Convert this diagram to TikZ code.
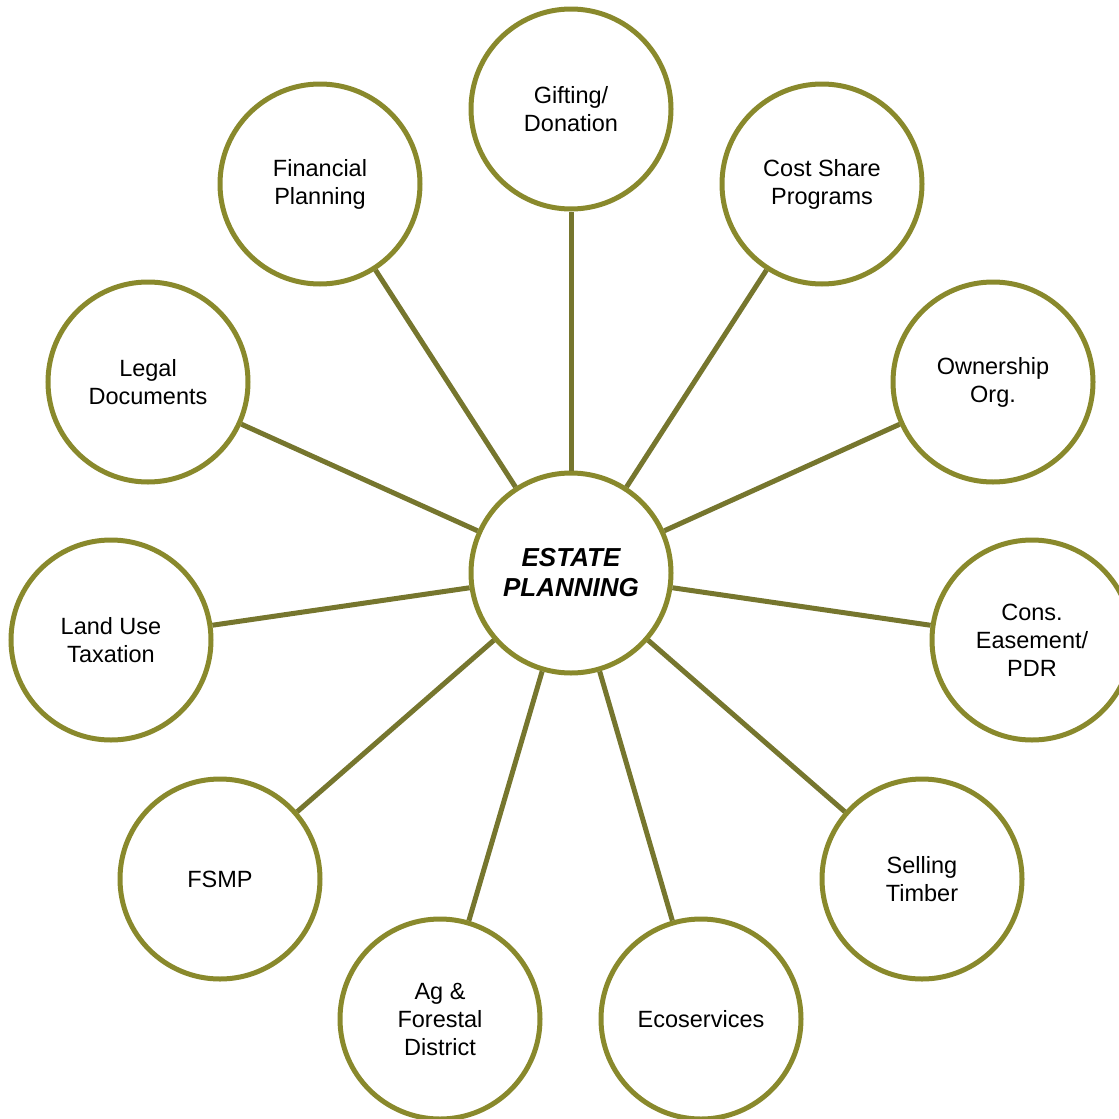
\documentclass[tikz,border=0pt]{standalone}
\usepackage{fontspec}
\setmainfont{Liberation Sans}
\definecolor{ringolive}{RGB}{137,137,44}
\definecolor{spokeolive}{RGB}{118,118,46}
\begin{document}
\begin{tikzpicture}[x=1pt,y=-1pt,
  topic/.style={circle,draw=ringolive,line width=5pt,fill=white,minimum size=200pt,
    inner sep=0pt,align=center,font=\fontsize{23.5}{28}\selectfont},
  hub/.style={topic,font=\fontsize{26}{30}\selectfont\bfseries\itshape},
  spoke/.style={draw=spokeolive,line width=5pt}]
\clip (0,0) rectangle (1119,1119);
\useasboundingbox (0,0) rectangle (1119,1119);
\node[hub]   (hub)   at (571,573)  {ESTATE\\PLANNING};
\node[topic] (gift)  at (571,109)  {Gifting/\\Donation};
\node[topic] (cost)  at (822,184)  {Cost Share\\Programs};
\node[topic] (fin)   at (320,184)  {Financial\\Planning};
\node[topic] (own)   at (993,382)  {Ownership\\Org.};
\node[topic] (legal) at (148,382)  {Legal\\Documents};
\node[topic] (cons)  at (1032,640) {Cons.\\Easement/\\PDR};
\node[topic] (land)  at (111,640)  {Land Use\\Taxation};
\node[topic] (sell)  at (922,879)  {Selling\\Timber};
\node[topic] (fsmp)  at (220,879)  {FSMP};
\node[topic] (eco)   at (701,1019) {Ecoservices};
\node[topic] (ag)    at (440,1019) {Ag \&\\Forestal\\District};
\foreach \t in {gift,cost,fin,own,legal,cons,land,sell,fsmp,eco,ag}
  \draw[spoke] (hub) -- (\t);
\end{tikzpicture}
\end{document}
